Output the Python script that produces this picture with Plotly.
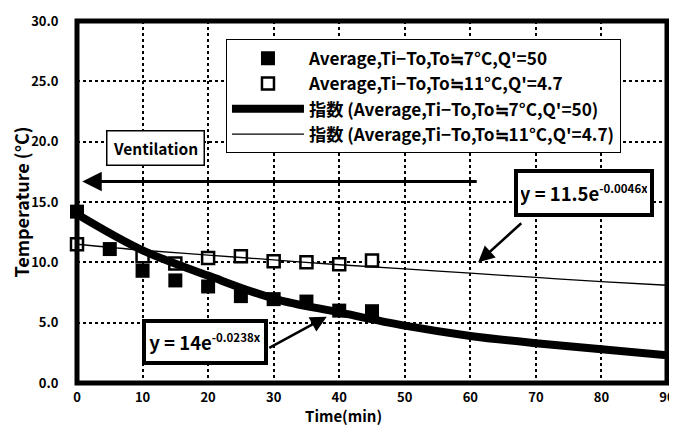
import plotly.graph_objects as go

# ---- data ----
time_pts = [0, 5, 10, 15, 20, 25, 30, 35, 40, 45]
avg_q50 = [14.2, 11.1, 9.3, 8.5, 8.0, 7.2, 6.95, 6.75, 6.0, 5.95]

time_open = [0, 10, 15, 20, 25, 30, 35, 40, 45]
avg_q47 = [11.5, 10.5, 9.9, 10.35, 10.5, 10.1, 10.0, 9.85, 10.15]

trend_t = [0, 10, 20, 30, 40, 50, 60, 70, 80, 90]
trend_q50 = [14.0, 11.0, 8.9, 7.0, 5.85, 4.75, 3.9, 3.3, 2.8, 2.3]
trend_q47 = [11.5, 11.0, 10.6, 10.2, 9.8, 9.45, 9.1, 8.75, 8.4, 8.1]

x_ticks = [0, 10, 20, 30, 40, 50, 60, 70, 80, 90]
y_ticks = [0, 5, 10, 15, 20, 25, 30]

names = [
    "Average,Ti−To,To≒7°C,Q'=50",
    "Average,Ti−To,To≒11°C,Q'=4.7",
    "指数 (Average,Ti−To,To≒7°C,Q'=50)",
    "指数 (Average,Ti−To,To≒11°C,Q'=4.7)",
]

FONT = "Noto Sans CJK JP, Noto Sans, sans-serif"
SUP = '<sup><span style="font-size:11.5px">{}</span></sup>'

fig = go.Figure()
fig.add_trace(go.Scatter(x=time_pts, y=avg_q50, mode="markers", name=names[0],
                         marker=dict(symbol="square", size=14, color="black"),
                         cliponaxis=False, legendgroup="a"))
fig.add_trace(go.Scatter(x=time_open, y=avg_q47, mode="markers", name=names[1],
                         marker=dict(symbol="square", size=12, color="white",
                                     line=dict(color="black", width=2.5)),
                         cliponaxis=False, legendgroup="b"))
fig.add_trace(go.Scatter(x=trend_t, y=trend_q50, mode="lines", name=names[2],
                         line=dict(color="black", width=8, shape="spline"),
                         legendgroup="c"))
fig.add_trace(go.Scatter(x=trend_t, y=trend_q47, mode="lines", name=names[3],
                         line=dict(color="black", width=1.3, shape="spline"),
                         legendgroup="d"))

annos = [
    dict(x=12.0, y=19.5, text="Ventilation", showarrow=False,
         bordercolor="black", borderwidth=1.5, borderpad=5.5, bgcolor="white",
         font=dict(size=15.5)),
    dict(x=0.8, y=16.7, ax=61.2, ay=16.7, axref="x", ayref="y", text="",
         showarrow=True, arrowhead=2, arrowwidth=3, arrowsize=1.3,
         arrowcolor="black"),
    dict(x=77.4, y=15.75, text="y = 11.5e" + SUP.format("-0.0046x"), showarrow=False,
         bordercolor="black", borderwidth=4, borderpad=3, bgcolor="white",
         width=126, height=34, font=dict(size=18.5)),
    dict(x=61.2, y=10.0, ax=68.0, ay=13.35, axref="x", ayref="y", text="",
         showarrow=True, arrowhead=2, arrowwidth=2.5, arrowsize=1.3,
         arrowcolor="black"),
    dict(x=19.6, y=3.43, text="y = 14e" + SUP.format("-0.0238x"), showarrow=False,
         bordercolor="black", borderwidth=4, borderpad=3, bgcolor="white",
         width=112, height=32, font=dict(size=18.5)),
    dict(x=38.1, y=5.5, ax=29.1, ay=2.85, axref="x", ayref="y", text="",
         showarrow=True, arrowhead=2, arrowwidth=2.5, arrowsize=1.3,
         arrowcolor="black"),
    dict(x=0.451, y=0, xref="paper", yref="paper", xanchor="center", yanchor="middle",
         yshift=-32.5, text="Time(min)", showarrow=False, font=dict(size=15)),
]

# the page body has an 8px default margin, so the figure is made 8px smaller
# and the left/top margins are reduced by the same amount
fig.update_layout(
    width=669, height=418,
    margin=dict(l=69, r=10, t=12.5, b=42.5),
    paper_bgcolor="white", plot_bgcolor="white",
    font=dict(family=FONT, size=13, color="black", weight="bold"),
    showlegend=True,
    legend=dict(x=0.2525, y=0.949, xanchor="left", yanchor="top",
                bgcolor="white", bordercolor="black", borderwidth=1,
                font=dict(size=17.2), itemwidth=72, tracegroupgap=9.5,
                traceorder="normal"),
    annotations=annos,
    shapes=[dict(type="rect", xref="paper", yref="paper", x0=0, y0=0, x1=1, y1=1,
                 line=dict(color="black", width=5), layer="above")],
)
fig.update_xaxes(range=[0, 90], tickvals=x_ticks, ticktext=[str(v) for v in x_ticks],
                 showgrid=True, gridcolor="black", gridwidth=1.5, griddash="dot",
                 zeroline=False, showline=False, ticks="outside", ticklen=2,
                 tickcolor="rgba(0,0,0,0)", tickfont=dict(size=13),
                 automargin=False)
fig.update_yaxes(range=[0, 30], tickvals=y_ticks, tickformat=".1f",
                 showgrid=True, gridcolor="black", gridwidth=1.5, griddash="dot",
                 zeroline=False, showline=False, ticks="outside", ticklen=15,
                 tickcolor="rgba(0,0,0,0)", tickfont=dict(size=13),
                 automargin=False,
                 title=dict(text="Temperature (°C)", font=dict(size=18), standoff=2))

fig.write_html("out.html")
